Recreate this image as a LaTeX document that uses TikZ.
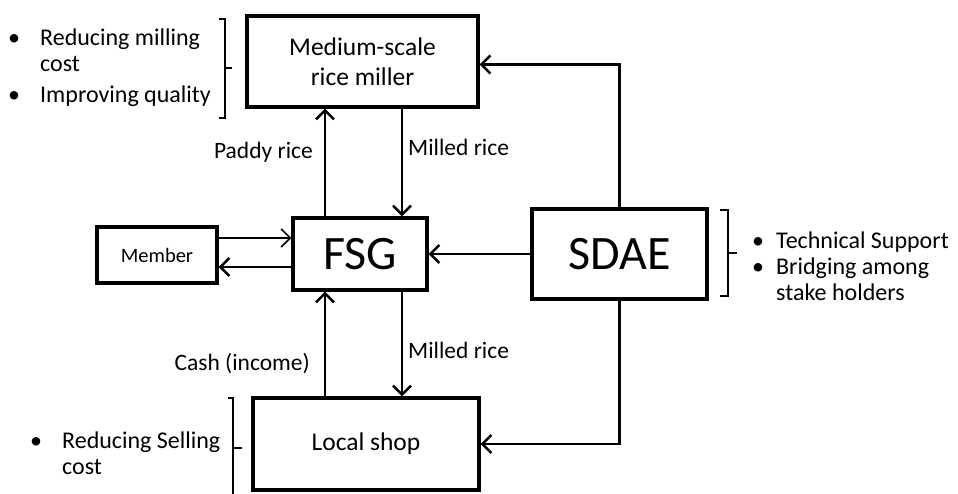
\documentclass[tikz,border=0pt]{standalone}
\usepackage{fontspec}
\setmainfont{Carlito}
\usetikzlibrary{arrows.meta,positioning,calc}

\begin{document}
\begin{tikzpicture}[x=1pt,y=-1pt,
        box/.style={draw,line width=3.4pt,align=center,inner sep=0pt,
                    font=\fontsize{25.5}{30}\selectfont},
        big/.style={font=\fontsize{48}{50}\selectfont},
        arr/.style={-{Straight Barb[length=9pt,width=18pt]},line width=2.5pt},
        thinarr/.style={-{Straight Barb[length=9pt,width=18pt]},line width=1.6pt},
        lbl/.style={inner sep=0pt,font=\fontsize{23.5}{26}\selectfont},
        notes/.style={anchor=north west,inner sep=0pt,
                      font=\fontsize{24}{26}\selectfont},
        brk/.style={line width=1.3pt},
      ]
        \useasboundingbox (0,0) rectangle (958,494);
        \node[box,minimum width=231pt,minimum height=91pt](miller) at (362.5,61.5)
          {Medium-scale\\rice miller};
        \node[box,big,minimum width=134pt,minimum height=72pt](fsg) at (360,254) {FSG};
        \node[box,minimum width=120pt,minimum height=56pt,font=\fontsize{20.5}{24}\selectfont]
          (member) at (157,255) {Member};
        \node[box,big,minimum width=175pt,minimum height=90pt](sdae) at (619.5,254) {SDAE};
        \node[box,minimum width=226pt,minimum height=92pt](shop) at (366,444) {Local shop};

        \draw[arr]([xshift=-35pt]fsg.north)--([xshift=-35pt]fsg.north |- miller.south);
        \draw[arr]([xshift=42pt]fsg.north |- miller.south)--([xshift=42pt]fsg.north);
        \draw[arr]([xshift=-35pt]fsg.south |- shop.north)--([xshift=-35pt]fsg.south);
        \draw[arr]([xshift=42pt]fsg.south)--([xshift=42pt]fsg.south |- shop.north);
        \draw[arr](sdae.west)--(fsg.east);
        \draw[arr](sdae.north)|-([yshift=-3pt]miller.east);
        \draw[arr](sdae.south)|-(shop.east);
        \draw[thinarr]([yshift=17pt]member.east)--([yshift=17pt]member.east -| fsg.west);
        \draw[arr]([yshift=-12pt]member.east -| fsg.west)--([yshift=-12pt]member.east);

        \node[lbl,anchor=east](paddy) at (313,152) {Paddy rice};
        \node[lbl,anchor=west](milledup) at (408,147) {Milled rice};
        \node[lbl,anchor=east](cash) at (310,364) {Cash (income)};
        \node[lbl,anchor=west](milleddown) at (408,350) {Milled rice};

        \node[notes](millnotes) at (8,27)
          {\begin{tabular}{@{}p{32pt}@{}l@{}}
             \textbullet & Reducing milling\\
                         & cost\\[5pt]
             \textbullet & Improving quality
           \end{tabular}};
        \node[notes](sdaenotes) at (752,230)
          {\begin{tabular}{@{}p{24pt}@{}l@{}}
             \textbullet & Technical Support\\
             \textbullet & Bridging among\\
                         & stake holders
           \end{tabular}};
        \node[notes](shopnotes) at (30,430)
          {\begin{tabular}{@{}p{32pt}@{}l@{}}
             \textbullet & Reducing Selling\\
                         & cost
           \end{tabular}};

        \draw[brk](219,19)-|(225,118)--(219,118) (225,68)--(232,68);
        \draw[brk](720,210)-|(728,296)--(720,296) (728,253)--(737,253);
        \draw[brk](228,398)-|(233,494) (233,448)--(242,448);
      \end{tikzpicture}
\end{document}
